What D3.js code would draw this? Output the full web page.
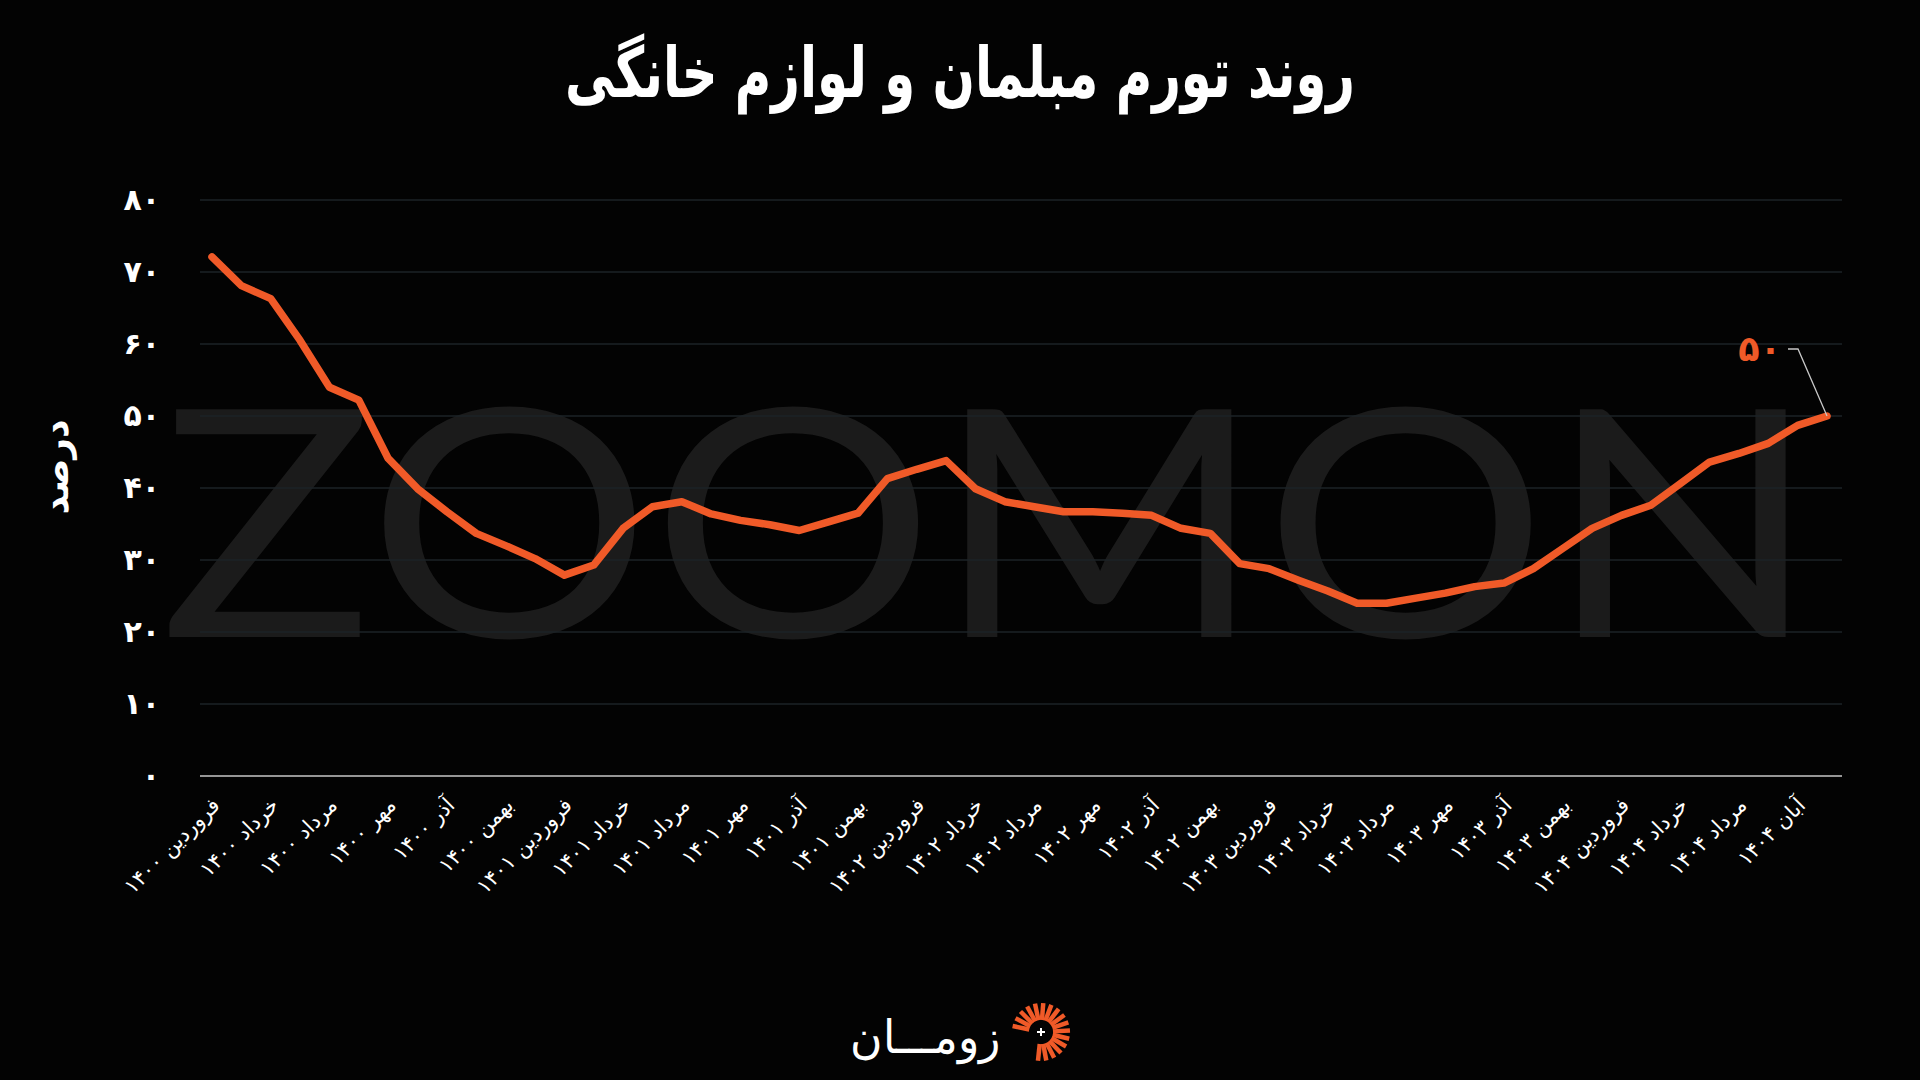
<!DOCTYPE html>
<html>
<head>
<meta charset="utf-8">
<script src="https://cdn.jsdelivr.net/npm/d3@7"></script>
<style>
  html, body { margin: 0; padding: 0; background: #030303; }
  svg { display: block; }
</style>
</head>
<body>
<div id="chart"></div>
<script>
// monthly inflation of furniture & household appliances, farvardin 1400 .. aban 1404
const values = [72.1, 68.1, 66.3, 60.5, 54.0, 52.2, 44.1, 39.9, 36.7, 33.7, 32.0, 30.2,
                27.9, 29.3, 34.4, 37.4, 38.1, 36.4, 35.5, 34.9, 34.1, 35.3, 36.5, 41.3,
                42.6, 43.8, 39.9, 38.1, 37.4, 36.7, 36.7, 36.5, 36.2, 34.4, 33.7, 29.5,
                28.8, 27.2, 25.7, 24.0, 24.0, 24.7, 25.4, 26.3, 26.8, 28.8, 31.6, 34.4,
                36.2, 37.6, 40.6, 43.6, 44.8, 46.2, 48.7, 50.0];

// x labels shown on every second month
const tickLabels = [
  "فروردین ۱۴۰۰", "خرداد ۱۴۰۰", "مرداد ۱۴۰۰", "مهر ۱۴۰۰", "آذر ۱۴۰۰", "بهمن ۱۴۰۰",
  "فروردین ۱۴۰۱", "خرداد ۱۴۰۱", "مرداد ۱۴۰۱", "مهر ۱۴۰۱", "آذر ۱۴۰۱", "بهمن ۱۴۰۱",
  "فروردین ۱۴۰۲", "خرداد ۱۴۰۲", "مرداد ۱۴۰۲", "مهر ۱۴۰۲", "آذر ۱۴۰۲", "بهمن ۱۴۰۲",
  "فروردین ۱۴۰۳", "خرداد ۱۴۰۳", "مرداد ۱۴۰۳", "مهر ۱۴۰۳", "آذر ۱۴۰۳", "بهمن ۱۴۰۳",
  "فروردین ۱۴۰۴", "خرداد ۱۴۰۴", "مرداد ۱۴۰۴", "آبان ۱۴۰۴"
];

const yTicks = [0, 10, 20, 30, 40, 50, 60, 70, 80];

const title = "روند تورم مبلمان و لوازم خانگی";
const yTitle = "درصد";

const width = 1920, height = 1080;
const orange = "#f05a28";
const faFont = "'DejaVu Sans', sans-serif";

// western -> persian digits
const fa = s => String(s).replace(/\d/g, d => "۰۱۲۳۴۵۶۷۸۹"[d]);

const svg = d3.select("#chart").append("svg")
  .attr("width", width)
  .attr("height", height);

svg.append("rect").attr("width", width).attr("height", height).attr("fill", "#030303");

const x = d3.scaleLinear().domain([0, values.length - 1]).range([212, 1827]);
const y = d3.scaleLinear().domain([0, 80]).range([776, 200]);

// watermark
svg.append("text")
  .attr("x", 160)
  .attr("y", 637)
  .attr("textLength", 1658)
  .attr("lengthAdjust", "spacingAndGlyphs")
  .attr("font-family", "Lato, sans-serif")
  .attr("font-size", 318)
  .attr("fill", "#1b1b1b")
  .text("ZOOMON");

// grid lines
svg.append("g")
  .selectAll("line")
  .data(yTicks.filter(d => d > 0))
  .join("line")
  .attr("x1", 200).attr("x2", 1842)
  .attr("y1", d => y(d)).attr("y2", d => y(d))
  .attr("stroke", "#1d2327")
  .attr("stroke-width", 1.5);

// y axis
const yAxis = svg.append("g")
  .attr("transform", "translate(200,0)")
  .call(d3.axisLeft(y).tickValues(yTicks).tickSize(0).tickPadding(40).tickFormat(fa));
yAxis.select(".domain").remove();
yAxis.selectAll("text")
  .attr("fill", "#fff")
  .attr("font-family", faFont)
  .attr("font-weight", "bold")
  .attr("font-size", 30);

// x axis
const xAxis = svg.append("g")
  .attr("transform", "translate(0,776)")
  .call(d3.axisBottom(x)
    .tickValues(tickLabels.map((d, i) => i * 2))
    .tickSize(0)
    .tickFormat((d, i) => tickLabels[i]));
xAxis.select(".domain").remove();
xAxis.append("line")
  .attr("x1", 200).attr("x2", 1842)
  .attr("stroke", "#c8c8c8")
  .attr("stroke-width", 1.5);
xAxis.selectAll(".tick text")
  .attr("fill", "#fff")
  .attr("font-family", faFont)
  .attr("font-size", 21)
  .attr("text-anchor", "end")
  .attr("dy", "0.3em")
  .attr("transform", "translate(2,24) rotate(-45)");

// y title
svg.append("text")
  .attr("transform", "translate(58,467) rotate(-90)")
  .attr("text-anchor", "middle")
  .attr("dominant-baseline", "middle")
  .attr("fill", "#fff")
  .attr("font-family", faFont)
  .attr("font-weight", "bold")
  .attr("font-size", 36)
  .text(yTitle);

// line
const line = d3.line()
  .x((d, i) => x(i))
  .y(d => y(d));

svg.append("path")
  .datum(values)
  .attr("d", line)
  .attr("fill", "none")
  .attr("stroke", orange)
  .attr("stroke-width", 7.5)
  .attr("stroke-linejoin", "round")
  .attr("stroke-linecap", "round");

// last value label
const lastI = values.length - 1;
const lx = x(lastI), ly = y(values[lastI]);
svg.append("path")
  .attr("d", `M${lx - 39},${ly - 67}H${lx - 29}L${lx},${ly}`)
  .attr("fill", "none")
  .attr("stroke", "#c8c8c8")
  .attr("stroke-width", 1.3);
svg.append("text")
  .attr("x", lx - 46)
  .attr("y", ly - 55)
  .attr("text-anchor", "end")
  .attr("fill", orange)
  .attr("font-family", faFont)
  .attr("font-weight", "bold")
  .attr("font-size", 35)
  .text(fa(values[lastI]));

// title
svg.append("text")
  .attr("x", 960)
  .attr("y", 97)
  .attr("text-anchor", "middle")
  .attr("textLength", 790)
  .attr("lengthAdjust", "spacingAndGlyphs")
  .attr("fill", "#fff")
  .attr("font-family", faFont)
  .attr("font-weight", "bold")
  .attr("font-size", 70)
  .text(title);

// logo
const logo = svg.append("g").attr("transform", "translate(1041,1032)");
const bars = d3.range(17).map(i => -168 + i * 16.5);
logo.selectAll("line")
  .data(bars)
  .join("line")
  .attr("x1", d => 12 * Math.cos(d * Math.PI / 180))
  .attr("y1", d => 12 * Math.sin(d * Math.PI / 180))
  .attr("x2", d => 29 * Math.cos(d * Math.PI / 180))
  .attr("y2", d => 29 * Math.sin(d * Math.PI / 180))
  .attr("stroke", orange)
  .attr("stroke-width", 4.5);
logo.append("path")
  .attr("d", "M-4,0H4M0,-4V4")
  .attr("stroke", "#fff")
  .attr("stroke-width", 2);
svg.append("text")
  .attr("x", 1000)
  .attr("y", 1053)
  .attr("text-anchor", "end")
  .attr("textLength", 150)
  .attr("lengthAdjust", "spacingAndGlyphs")
  .attr("fill", "#fff")
  .attr("font-family", faFont)
  .attr("font-weight", 300)
  .attr("font-size", 46)
  .text("زومـــان");
</script>
</body>
</html>
